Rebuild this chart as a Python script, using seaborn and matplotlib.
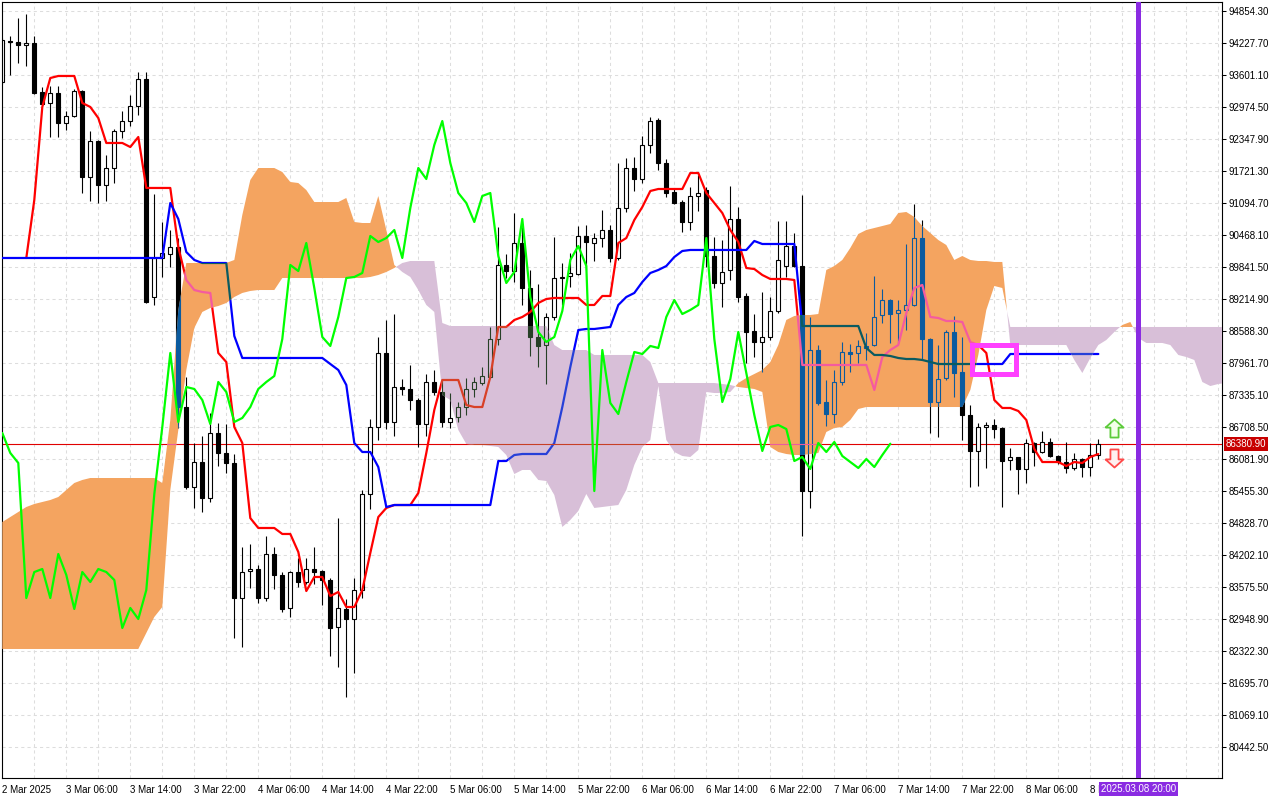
import matplotlib
matplotlib.use('Agg')
import matplotlib.pyplot as plt
import numpy as np
import seaborn as sns
from matplotlib.path import Path
from matplotlib.patches import PathPatch, Rectangle

# --- hourly candles (bar 0 = 2 Mar 22:00) ---
opens = [
    93464, 94267, 94247, 94189, 94228, 93268, 93053, 93249, 92661, 92798,
    93288, 91604, 92309, 91447, 91780, 92505, 92700, 92994, 93523, 89254,
    90018, 90096, 90233, 87100, 85534, 86023, 85318, 86591, 86200, 86004,
    83360, 83889, 83928, 83360, 84222, 83811, 83165, 83869, 83674, 83928,
    83889, 83713, 82792, 83145, 82949, 83517, 85397, 86709, 88158, 86807,
    87492, 87453, 87237, 86767, 87590, 87394, 86807, 86904, 87100, 87453,
    87570, 87688, 88432, 89881, 89763, 90312, 89430, 88471, 88314, 88863,
    89626, 89665, 89705, 90449, 90312, 90409, 90566, 90018, 90997, 91780,
    91565, 92231, 92720, 91878, 91310, 91114, 90723, 91232, 91349, 90057,
    89528, 89783, 90782, 89274, 88589, 88373, 88471, 88980, 89861, 90253,
    89861, 85455, 88216, 87198, 86963, 87590, 88177, 88158, 88295, 88314,
    88902, 89195, 88941, 89000, 89098, 90409, 88432, 87198, 87668, 88569,
    87786, 86944, 86239, 86709, 86748, 86689, 86063, 86121, 85886, 86395,
    86219, 86415, 86141, 86023, 85906, 86082, 85925, 86160]
highs = [
    94326, 94365, 94717, 94796, 94365, 93366, 93386, 93386, 92896, 93327,
    93307, 92505, 92328, 92035, 92544, 92896, 93210, 93660, 93660, 91271,
    90723, 90566, 90409, 87688, 86395, 86532, 86983, 86787, 86767, 86180,
    84359, 84418, 84007, 84574, 84359, 83869, 83889, 84144, 84144, 84359,
    83909, 83752, 84927, 83341, 83752, 85475, 86865, 88471, 88804, 88921,
    87649, 87923, 87277, 87746, 87825, 87629, 87374, 87198, 87668, 87688,
    87883, 88667, 90625, 90096, 90899, 90644, 89783, 89509, 88941, 90429,
    89920, 90116, 90644, 90664, 90507, 90958, 90664, 91878, 91976, 91996,
    92407, 92779, 92759, 91956, 91369, 91154, 91408, 91643, 91408, 90429,
    90370, 91428, 91016, 89333, 88921, 89352, 89254, 90742, 90742, 90507,
    91251, 88863, 88314, 87629, 87825, 88373, 88334, 88412, 88549, 89665,
    89411, 89215, 89195, 90292, 91075, 90762, 88451, 88314, 88608, 88882,
    88471, 87139, 86787, 86807, 86865, 86709, 86297, 86121, 86474, 86415,
    86630, 86493, 86160, 86415, 86200, 86102, 86395, 86474]
lows = [
    93425, 93601, 93836, 93777, 93229, 93014, 92387, 92387, 92524, 92779,
    91291, 91134, 91095, 91134, 91486, 92368, 92603, 92818, 89137, 89098,
    89646, 89842, 86689, 85495, 85123, 85044, 85240, 85945, 85808, 82577,
    82401, 83556, 83262, 83302, 83537, 83086, 82988, 83576, 83634, 83634,
    83223, 82225, 82009, 81422, 81892, 83360, 85103, 86454, 86669, 86532,
    87335, 87042, 86317, 86532, 87335, 86709, 86689, 86807, 86944, 87296,
    87531, 87668, 88314, 89626, 89548, 89098, 88099, 87883, 87551, 88804,
    89098, 89450, 89685, 89783, 89959, 90233, 89940, 89979, 90919, 91330,
    91486, 92074, 91741, 91212, 91075, 90527, 90566, 90938, 89842, 89430,
    89058, 89587, 89156, 87962, 88079, 87786, 88412, 88941, 89646, 89842,
    84574, 85123, 87139, 86728, 86787, 87531, 87786, 87962, 88021, 88295,
    88745, 88354, 88354, 88608, 89078, 88021, 86591, 86513, 87629, 87296,
    86454, 85534, 85553, 85906, 86493, 85142, 85867, 85397, 85612, 85945,
    86200, 86121, 85984, 85808, 85867, 85730, 85749, 86082]
closes = [
    94287, 94247, 94189, 94228, 93249, 93033, 93249, 92661, 92798, 93288,
    91604, 92309, 91447, 91780, 92505, 92700, 92994, 93523, 89156, 90018,
    90116, 90233, 87100, 85534, 86023, 85318, 86591, 86200, 86004, 83360,
    83869, 83928, 83360, 84222, 83811, 83145, 83869, 83674, 83928, 83869,
    83713, 82773, 83165, 82949, 83517, 85397, 86709, 88158, 86807, 87492,
    87453, 87237, 86767, 87590, 87394, 86807, 86885, 87100, 87453, 87590,
    87707, 88432, 89881, 89763, 90312, 89430, 88471, 88295, 88863, 89626,
    89646, 89724, 90449, 90331, 90409, 90566, 90018, 90997, 91780, 91565,
    92231, 92700, 91878, 91291, 91095, 90723, 91232, 91291, 90057, 89528,
    89744, 90782, 89254, 88569, 88373, 88471, 88980, 89979, 90253, 89861,
    85455, 88216, 87179, 86963, 87590, 88177, 88138, 88295, 88256, 88863,
    89195, 88921, 89000, 89098, 90409, 88432, 87198, 87649, 88569, 87766,
    86944, 86239, 86709, 86748, 86669, 86043, 86121, 85886, 86395, 86219,
    86415, 86141, 86023, 85906, 86082, 85925, 86160, 86381]

# --- Ichimoku lines ---
nan = float('nan')
tenkan = [
    nan, nan, nan, 90018, 91154, 92975, 93542, 93582, 93582, 93582,
    93053, 92975, 92759, 92270, 92270, 92270, 92191, 92387, 91389, 91389,
    91389, 91389, 90233, 89587, 89391, 89352, 89333, 88158, 87981, 86709,
    86395, 84925, 84731, 84731, 84731, 84614, 84614, 84261, 83497, 83772,
    83772, 83399, 83478, 83184, 83184, 83517, 84242, 84946, 85123, 85181,
    85181, 85181, 85416, 86200, 87042, 87629, 87629, 87629, 87139, 87100,
    87100, 87688, 88667, 88667, 88804, 88863, 88961, 89137, 89215, 89235,
    89235, 89235, 89235, 89098, 89098, 89274, 89274, 90312, 90409, 90762,
    91016, 91330, 91369, 91369, 91369, 91369, 91682, 91682, 91291, 91095,
    90899, 90566, 90331, 89822, 89802, 89685, 89607, 89607, 89607, 89587,
    87923, 87923, 87923, 87923, 87923, 87923, 87923, 87923, 87923, 87433,
    88080, 88216, 88314, 88941, 89430, 89489, 88863, 88843, 88784, 88784,
    88765, 88373, 88314, 88158, 87237, 87081, 87081, 87022, 86846, 86278,
    86023, 86023, 86023, 85945, 86023, 86004, 86121, 86180]
kijun = [
    90018, 90018, 90018, 90018, 90018, 90018, 90018, 90018, 90018, 90018,
    90018, 90018, 90018, 90018, 90018, 90018, 90018, 90018, 90018, 90018,
    90018, 91095, 90782, 90135, 89979, 89920, 89920, 89920, 89920, 88491,
    88060, 88060, 88060, 88060, 88060, 88060, 88060, 88060, 88060, 88060,
    88060, 87942, 87825, 87531, 86395, 86219, 86219, 85925, 85142, 85181,
    85181, 85181, 85181, 85181, 85181, 85181, 85181, 85181, 85181, 85181,
    85181, 85181, 86043, 86043, 86160, 86180, 86180, 86180, 86180, 86395,
    87100, 87883, 88608, 88628, 88628, 88647, 88667, 89098, 89254, 89333,
    89548, 89724, 89783, 89861, 90037, 90155, 90175, 90175, 90175, 90175,
    90175, 90175, 90175, 90175, 90351, 90292, 90292, 90292, 90292, 90292,
    88686, 88686, 88686, 88686, 88686, 88686, 88686, 88686, 88256, 88119,
    88119, 88099, 88060, 88040, 88040, 88021, 87981, 87942, 87942, 87942,
    87942, 87942, 87942, 87942, 87942, 87942, 88138, 88138, 88138, 88138,
    88138, 88138, 88138, 88138, 88138, 88138, 88138, 88138]
span_a = [
    84848, 84946, 85044, 85142, 85201, 85240, 85279, 85338, 85475, 85612,
    85671, 85710, 85710, 85710, 85710, 85710, 85710, 85710, 85710, 85710,
    85612, 86846, 89000, 89920, 89920, 89920, 89920, 89920, 89920, 89979,
    90860, 91545, 91780, 91780, 91780, 91702, 91506, 91486, 91349, 91114,
    91114, 91114, 91114, 91193, 90723, 90703, 90703, 91232, 90566, 89881,
    89744, 89646, 89391, 89098, 88961, 87335, 87237, 86650, 86376, 86356,
    86356, 86337, 86317, 86160, 85788, 85867, 85867, 85671, 85651, 85377,
    84751, 84888, 85064, 85397, 85123, 85142, 85162, 85181, 85475, 85965,
    86317, 86454, 87511, 86454, 86219, 86141, 86121, 86258, 87394, 87374,
    87374, 87394, 87570, 87668, 87746, 87825, 87981, 88314, 88804, 88882,
    88902, 88902, 88921, 89783, 89861, 89979, 90214, 90488, 90566, 90605,
    90644, 90684, 90899, 90919, 90821, 90644, 90507, 90370, 90272, 89979,
    90057, 89979, 89959, 89959, 89940, 89940, 88314, 88314, 88314, 88314,
    88314, 88314, 88314, 88314, 88021, 87766, 88060, 88314, 88412, 88569,
    88706, 88765, 88451, 88354, 88354, 88354, 88314, 88119, 88079, 88021,
    87590, 87511, 87551, 87570]
span_b = [
    82362, 82362, 82362, 82362, 82362, 82362, 82362, 82362, 82362, 82362,
    82362, 82362, 82362, 82362, 82362, 82362, 82362, 82362, 82675, 82988,
    83184, 85475, 86650, 87825, 88647, 88961, 89039, 89078, 89137, 89254,
    89333, 89372, 89391, 89391, 89391, 89626, 89626, 89626, 89626, 89626,
    89626, 89626, 89626, 89626, 89626, 89626, 89646, 89685, 89744, 89822,
    89920, 89959, 89959, 89959, 89959, 88745, 88686, 88686, 88686, 88686,
    88686, 88686, 88686, 88686, 88686, 88686, 88686, 88686, 88686, 88314,
    88216, 88216, 88216, 88216, 88119, 88119, 88119, 88119, 88119, 88119,
    88119, 87981, 87570, 87570, 87570, 87570, 87570, 87570, 87570, 87570,
    87551, 87531, 87492, 87472, 87453, 87394, 86317, 86219, 86180, 86160,
    86160, 86180, 86200, 86611, 86689, 86709, 86846, 87061, 87100, 87100,
    87100, 87100, 87100, 87100, 87100, 87100, 87100, 87100, 87100, 87100,
    87100, 87433, 88119, 89000, 89470, 89430, 88667, 88667, 88667, 88667,
    88667, 88667, 88667, 88667, 88667, 88667, 88667, 88667, 88667, 88667,
    88667, 88667, 88667, 88667, 88667, 88667, 88667, 88667, 88667, 88667,
    88667, 88667, 88667, 88667]
chikou_shift = 26

time_labels = ['2 Mar 2025', '3 Mar 06:00', '3 Mar 14:00', '3 Mar 22:00',
               '4 Mar 06:00', '4 Mar 14:00', '4 Mar 22:00', '5 Mar 06:00',
               '5 Mar 14:00', '5 Mar 22:00', '6 Mar 06:00', '6 Mar 14:00',
               '6 Mar 22:00', '7 Mar 06:00', '7 Mar 14:00', '7 Mar 22:00',
               '8 Mar 06:00', '8 Mar 14:00']
price_ticks = [94854.30, 94227.70, 93601.10, 92974.50, 92347.90, 91721.30,
               91094.70, 90468.10, 89841.50, 89214.90, 88588.30, 87961.70,
               87335.10, 86708.50, 86081.90, 85455.30, 84828.70, 84202.10,
               83575.50, 82948.90, 82322.30, 81695.70, 81069.10, 80442.50]
current_price = 86380.90
vline_bar = 142
vline_label = '2025.03.08 20:00'
signal_bar = 139
signal_up_price = 86689
signal_down_price = 86111
box_bars = (121.2, 126.7)
box_prices = (87737, 88324)

# colours
ORANGE = '#F4A460'
THISTLE = '#D8BFD8'


def xor_color(line_hex, cloud_hex):
    '''MT5 paints the cloud in xor mode, so what lies under it changes colour'''
    a = int(line_hex[1:], 16)
    b = int(cloud_hex[1:], 16)
    return '#%06X' % (a ^ (0xFFFFFF ^ b))


sns.set_style('white')
plt.rcParams['font.family'] = ['Liberation Sans', 'DejaVu Sans']

fig = plt.figure(figsize=(12.8, 8), dpi=100)
ax = fig.add_axes([2 / 1280, 22 / 800, 1220 / 1280, 776 / 800])

x = np.arange(len(closes))
o, h, l, c = (np.array(v, dtype=float) for v in (opens, highs, lows, closes))
up = c >= o
body_lo = np.minimum(o, c)
body_hi = np.maximum(o, c)
body_h = np.maximum(body_hi - body_lo, 12)


def draw_candles(edge, bear_face, bull_face, z, clip=None):
    arts = [ax.vlines(x, body_hi, h, color=edge, lw=0.8, zorder=z),
            ax.vlines(x, l, body_lo, color=edge, lw=0.8, zorder=z)]
    bull = ax.bar(x[up], body_h[up], bottom=body_lo[up], width=0.52,
                  facecolor=bull_face, edgecolor=edge, lw=0.8, zorder=z)
    bear = ax.bar(x[~up], body_h[~up], bottom=body_lo[~up], width=0.52,
                  facecolor=bear_face, edgecolor=bear_face, lw=0.8, zorder=z)
    arts += list(bull) + list(bear)
    if clip is not None:
        for a in arts:
            a.set_clip_path(clip)


draw_candles('#000000', '#000000', '#FFFFFF', 2)

ax.axhline(current_price, color='#E00000', lw=0.8, zorder=1.8)
sns.lineplot(x=x, y=tenkan, ax=ax, color='#FF0000', linewidth=1.6, zorder=3)
sns.lineplot(x=x, y=kijun, ax=ax, color='#0000FF', linewidth=1.6, zorder=3)

# cloud
xs = np.arange(len(span_a))
sa = np.array(span_a, dtype=float)
sb = np.array(span_b, dtype=float)
bull_cloud = ax.fill_between(xs, sa, sb, where=sa >= sb, interpolate=True,
                             color=ORANGE, lw=0, zorder=4)
bear_cloud = ax.fill_between(xs, sa, sb, where=sa < sb, interpolate=True,
                             color=THISTLE, lw=0, zorder=4)

for coll, col in ((bull_cloud, ORANGE), (bear_cloud, THISTLE)):
    clip = PathPatch(Path.make_compound_path(*coll.get_paths()),
                     transform=ax.transData)
    k = xor_color('#000000', col)
    draw_candles(k, k, 'none', 4.5, clip)
    for vals, base in ((tenkan, '#FF0000'), (kijun, '#0000FF')):
        ln, = ax.plot(x, vals, color=xor_color(base, col), lw=1.6, zorder=4.6)
        ln.set_clip_path(clip)
    pl = ax.axhline(current_price, color=xor_color('#E00000', col), lw=0.8, zorder=4.6)
    pl.set_clip_path(clip)

# lagging span drawn on top of the cloud
sns.lineplot(x=x[:len(closes) - chikou_shift], y=closes[chikou_shift:], ax=ax,
             color='#00FF00', linewidth=1.6, zorder=5)

# objects
ax.axvline(vline_bar, color='#8A2BE2', lw=3.6, zorder=7)
ax.add_patch(Rectangle((box_bars[0], box_prices[0]), box_bars[1] - box_bars[0],
                       box_prices[1] - box_prices[0], fill=False,
                       edgecolor='#FF40FF', lw=3.6, joinstyle='miter', zorder=8))
up_arrow = [(-1, 0.1), (0, 1), (1, 0.1), (0.45, 0.1), (0.45, -1),
            (-0.45, -1), (-0.45, 0.1), (-1, 0.1)]
down_arrow = [(px, -py) for px, py in up_arrow]
ax.plot([signal_bar], [signal_up_price], marker=up_arrow, ms=13, mfc='#F2FFE8',
        mec='#5CCB3A', mew=1.3, zorder=8, ls='none')
ax.plot([signal_bar], [signal_down_price], marker=down_arrow, ms=13, mfc='#FFF0F0',
        mec='#FF4A4A', mew=1.3, zorder=8, ls='none')

# axes
ax.set_xlim(-0.0375, 152.46)
ax.set_ylim(79835.7, 95030.5)
ax.set_xlabel('')
ax.set_ylabel('')
ax.set_xticks(np.arange(0, 8 * len(time_labels), 8))
ax.set_xticklabels(time_labels)
ax.set_xticks(np.arange(0, 153, 4), minor=True)
for lbl in ax.get_xticklabels():
    lbl.set_horizontalalignment('left')
ax.yaxis.tick_right()
ax.set_yticks(price_ticks)
ax.set_yticklabels(['%.2f' % p for p in price_ticks])
ax.tick_params(axis='both', which='major', length=3, width=0.75, pad=2,
               labelsize=7, colors='black', direction='out')
ax.tick_params(axis='x', which='minor', length=0)
ax.grid(True, which='both', axis='x', color='#DDDDDD', lw=0.75, ls=(0, (3, 3)))
ax.grid(True, which='major', axis='y', color='#DDDDDD', lw=0.75, ls=(0, (3, 3)))
for sp in ax.spines.values():
    sp.set_color('black')
    sp.set_linewidth(0.8)

ax.annotate('%.2f' % current_price, xy=(1, current_price),
            xycoords=('axes fraction', 'data'), xytext=(2.5, 0),
            textcoords='offset points', ha='left', va='center', fontsize=7,
            color='white', annotation_clip=False, zorder=10,
            bbox=dict(boxstyle='square,pad=0.2', fc='#C80000', ec='none'))
ax.annotate(vline_label, xy=(vline_bar, 0), xycoords=('data', 'axes fraction'),
            xytext=(0, -4.5), textcoords='offset points', ha='center', va='top',
            fontsize=7, color='white', annotation_clip=False, zorder=10,
            bbox=dict(boxstyle='square,pad=0.2', fc='#8A2BE2', ec='none'))

fig.savefig('out.png', dpi=100)
